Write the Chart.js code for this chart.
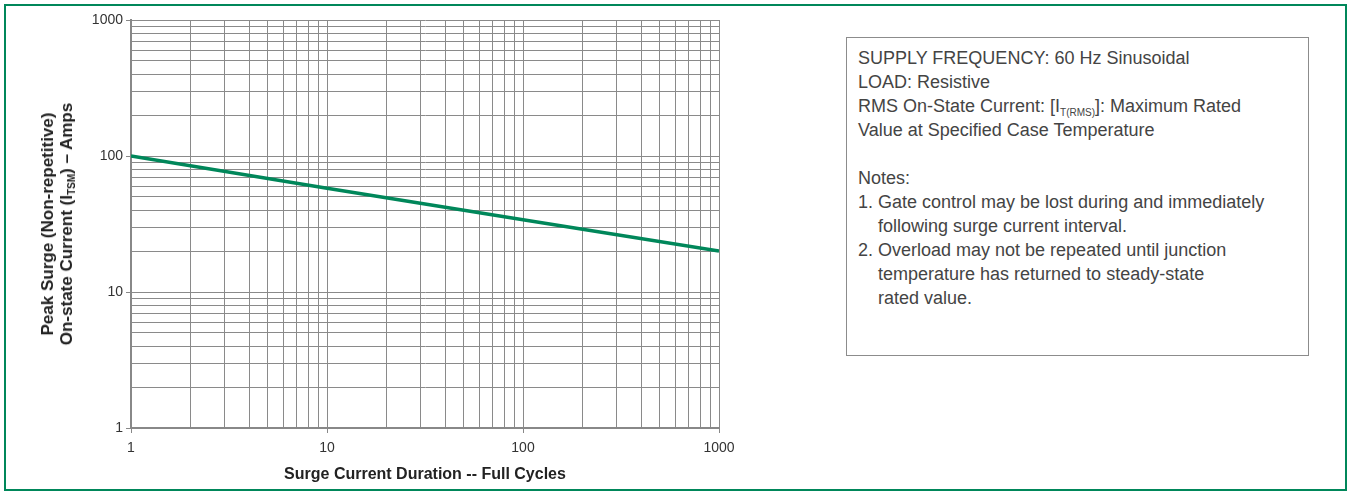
<!DOCTYPE html>
<html>
<head>
<meta charset="utf-8">
<script src="https://cdn.jsdelivr.net/npm/chart.js@4.4.1/dist/chart.umd.min.js"></script>
<style>
  html, body { margin: 0; padding: 0; background: #fff; }
  body { width: 1349px; height: 492px; position: relative; overflow: hidden; font-family: "Liberation Sans", Arial, sans-serif; }
  #frame { position: absolute; left: 4px; top: 4px; width: 1343px; height: 487px; border: 2px solid #00875a; box-sizing: border-box; }
  #chartWrap { position: absolute; left: 0; top: 0; width: 760px; height: 492px; }
  #ytitle { position: absolute; left: 57px; top: 224px; transform: translate(-50%, -50%) rotate(-90deg); white-space: nowrap; text-align: center; font-weight: bold; font-size: 17px; line-height: 19px; color: #222; }
  #ytitle sub { font-size: 10px; vertical-align: -3px; line-height: 0; }
  #notes { position: absolute; left: 846px; top: 37px; width: 463px; height: 319px; border: 1px solid #8c8c8c; box-sizing: border-box; padding: 8px 0 0 11px; font-size: 18px; line-height: 24px; color: #444; }
  #notes sub { font-size: 10px; vertical-align: -4px; line-height: 0; }
  #notes .ind { padding-left: 20px; }
</style>
</head>
<body>
<div id="frame"></div>
<div id="chartWrap"><canvas id="c"></canvas></div>
<div id="ytitle">Peak Surge (Non-repetitive)<br>On-state Current (I<sub>TSM</sub>) – Amps</div>
<div id="notes">
  <div>SUPPLY FREQUENCY: 60 Hz Sinusoidal</div>
  <div>LOAD: Resistive</div>
  <div>RMS On-State Current: [I<sub>T(RMS)</sub>]: Maximum Rated</div>
  <div>Value at Specified Case Temperature</div>
  <div>&nbsp;</div>
  <div>Notes:</div>
  <div>1. Gate control may be lost during and immediately</div>
  <div class="ind">following surge current interval.</div>
  <div>2. Overload may not be repeated until junction</div>
  <div class="ind">temperature has returned to steady-state</div>
  <div class="ind">rated value.</div>
</div>
<script>
// Data
const cycles = [1, 10, 100, 1000];
const surgeAmps = [100, 58, 34, 20];

// Axis labels (decades) and minor grid multipliers
const xDecades = [1, 10, 100, 1000];
const yDecades = [1, 10, 100, 1000];
const minorSteps = [1, 2, 3, 4, 5, 6, 7, 8, 9];

function gridValues(decades) {
  const vals = [];
  for (let i = 0; i < decades.length; i++) {
    if (i === decades.length - 1) { vals.push(decades[i]); break; }
    minorSteps.forEach(m => vals.push(decades[i] * m));
  }
  return vals;
}

const GRID = '#8a8a8a';
const AXIS = '#888888';

function makeScale(decades, isX) {
  return {
    type: 'logarithmic',
    min: decades[0],
    max: decades[decades.length - 1],
    afterBuildTicks: (s) => { s.ticks = gridValues(decades).map(v => ({ value: v })); },
    afterFit: (s) => { if (isX) { s.height = 56; } else { s.width = 131; } },
    ticks: {
      autoSkip: false,
      maxRotation: 0,
      padding: isX ? 7 : 3,
      color: '#333',
      font: { family: '"Liberation Sans", Arial, sans-serif', size: 14 },
      callback: (v) => decades.includes(v) ? String(v) : ''
    },
    grid: {
      color: GRID,
      lineWidth: 1,
      tickLength: 5,
      tickColor: (ctx) => (ctx.tick && decades.includes(ctx.tick.value)) ? AXIS : 'rgba(0,0,0,0)'
    },
    border: { color: AXIS, width: 2 },
    title: isX ? {
      display: true,
      text: 'Surge Current Duration -- Full Cycles',
      color: '#222',
      font: { family: '"Liberation Sans", Arial, sans-serif', weight: 'bold', size: 16 },
      padding: { top: 2, bottom: 0 }
    } : { display: false }
  };
}

new Chart(document.getElementById('c'), {
  type: 'line',
  data: {
    datasets: [{
      data: cycles.map((c, i) => ({ x: c, y: surgeAmps[i] })),
      borderColor: '#00875a',
      borderWidth: 3.5,
      pointRadius: 0,
      tension: 0,
      fill: false
    }]
  },
  options: {
    responsive: true,
    maintainAspectRatio: false,
    animation: false,
    layout: { padding: { left: 0, right: 41, top: 20, bottom: 8 } },
    plugins: { legend: { display: false }, tooltip: { enabled: false } },
    scales: {
      x: makeScale(xDecades, true),
      y: makeScale(yDecades, false)
    }
  }
});
</script>
</body>
</html>
